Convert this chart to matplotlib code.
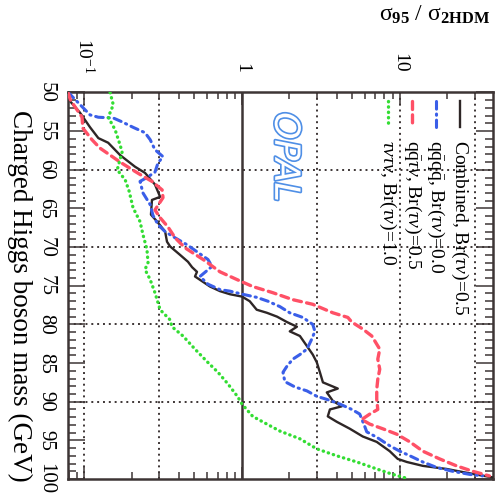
"""
OPAL charged Higgs search: ratio of the 95% CL cross-section limit to the
2HDM prediction versus charged Higgs mass, drawn in landscape-rotated form.
"""

import matplotlib.pyplot as plt
import matplotlib.patheffects as pe
from matplotlib.ticker import MultipleLocator, LogLocator, NullFormatter

plt.rcParams['font.family'] = ['Liberation Serif', 'DejaVu Serif']
plt.rcParams['mathtext.fontset'] = 'custom'
plt.rcParams['mathtext.rm'] = 'Liberation Serif'
plt.rcParams['mathtext.it'] = 'Liberation Serif:italic'
plt.rcParams['mathtext.bf'] = 'Liberation Serif:bold'

# Combined, Br(tau nu) = 0.5
combined_mass = [50.0, 51.2, 52.6, 54.5, 55.9, 56.5, 58.1, 59.6, 60.4, 61.9,
                 63.5, 63.9, 65.8, 66.7, 68.0, 69.3, 69.9, 71.0, 71.9, 72.6,
                 73.2, 73.8, 74.5, 75.1, 75.7, 76.1, 76.4, 77.0, 78.1, 78.5,
                 79.0, 79.7, 80.3, 80.9, 81.5, 82.8, 83.9, 84.9, 86.2, 87.5,
                 88.3, 88.8, 89.9, 90.6, 91.0, 91.9, 92.6, 93.5, 94.5, 95.2,
                 96.4, 97.4, 97.8, 98.3, 98.7, 99.1, 99.5, 99.8]
combined_ratio = [0.079, 0.082, 0.094, 0.109, 0.123, 0.142, 0.169, 0.210, 0.243, 0.281,
                  0.303, 0.269, 0.265, 0.290, 0.326, 0.335, 0.350, 0.405, 0.455, 0.483,
                  0.519, 0.504, 0.567, 0.627, 0.726, 0.840, 1.00, 1.12, 1.24, 1.44,
                  1.67, 1.93, 2.23, 2.01, 2.33, 2.58, 2.81, 2.98, 3.12, 3.26,
                  4.05, 3.45, 3.77, 4.29, 3.61, 3.50, 3.99, 4.83, 5.83, 7.15,
                  8.64, 9.71, 11.1, 14.0, 19.8, 25.1, 32.1, 39.0]

# qqqq channel, Br(tau nu) = 0.0
qqqq_mass = [50.0, 50.3, 52.9, 53.2, 53.3, 53.8, 54.5, 55.2, 56.1, 57.4,
             58.3, 59.1, 60.3, 61.0, 61.5, 63.0, 64.5, 65.9, 67.1, 68.0,
             68.8, 69.7, 70.7, 71.6, 72.5, 73.8, 74.8, 75.5, 75.7, 76.1,
             76.5, 77.0, 77.7, 78.5, 79.1, 80.0, 80.9, 81.9, 83.2, 83.9,
             84.5, 85.4, 86.2, 87.4, 88.1, 88.6, 89.3, 89.7, 90.3, 91.0,
             91.6, 93.2, 93.9, 94.6, 95.7, 96.4, 97.0, 97.8, 98.5, 99.0,
             99.4, 99.6]
qqqq_ratio = [0.079, 0.082, 0.109, 0.123, 0.153, 0.174, 0.204, 0.243, 0.262, 0.281,
              0.316, 0.294, 0.281, 0.250, 0.226, 0.236, 0.262, 0.273, 0.294, 0.326,
              0.377, 0.449, 0.527, 0.609, 0.646, 0.542, 0.609, 0.726, 0.840, 1.01,
              1.24, 1.46, 1.74, 2.01, 2.43, 2.81, 2.90, 2.77, 2.58, 2.33,
              2.10, 1.93, 1.82, 1.87, 2.17, 2.58, 2.98, 3.45, 4.17, 4.97,
              5.58, 6.00, 6.18, 7.15, 8.64, 10.0, 11.6, 14.0, 17.1, 21.6,
              27.7, 33.5]

# qq tau nu channel, Br(tau nu) = 0.5
qqtn_mass = [50.0, 51.0, 53.2, 54.6, 56.1, 57.2, 58.1, 59.0, 59.8, 60.6,
             61.5, 62.6, 63.6, 65.2, 66.2, 67.4, 68.8, 70.1, 71.6, 73.2,
             74.2, 75.1, 75.9, 76.8, 77.4, 78.5, 79.1, 79.7, 80.6, 81.5,
             83.2, 84.5, 85.8, 87.1, 88.4, 89.7, 91.0, 91.6, 92.3, 92.9,
             93.5, 94.2, 95.2, 96.4, 97.4, 98.3, 99.0, 99.6]
qqtn_ratio = [0.079, 0.082, 0.097, 0.098, 0.112, 0.126, 0.146, 0.169, 0.195, 0.226,
              0.269, 0.312, 0.316, 0.281, 0.303, 0.340, 0.377, 0.436, 0.567, 0.726,
              0.93, 1.17, 1.57, 2.10, 2.81, 3.77, 4.69, 4.97, 5.83, 6.65,
              7.47, 7.26, 7.47, 7.26, 7.15, 7.15, 7.26, 6.46, 5.75, 6.46,
              7.80, 9.57, 11.6, 14.0, 17.9, 22.9, 29.0, 37.0]

# tau nu tau nu channel, Br(tau nu) = 1.0
tntn_mass = [50.0, 51.6, 53.2, 54.8, 56.8, 57.7, 60.0, 61.3, 62.8, 64.9,
             66.7, 68.4, 70.3, 72.0, 72.9, 74.2, 75.9, 78.1, 79.4, 80.3,
             81.5, 83.2, 84.8, 86.2, 87.7, 89.4, 90.3, 91.9, 92.9, 93.8,
             94.8, 96.1, 97.0, 97.8, 98.7, 99.4, 100.0]
tntn_ratio = [0.146, 0.153, 0.142, 0.157, 0.169, 0.174, 0.162, 0.182, 0.193, 0.204,
              0.226, 0.236, 0.250, 0.254, 0.243, 0.262, 0.281, 0.303, 0.350, 0.360,
              0.423, 0.504, 0.60, 0.705, 0.815, 0.943, 1.0, 1.17, 1.44, 1.74,
              2.33, 2.98, 3.99, 5.35, 7.15, 9.03, 11.5]

mass_ticks = list(range(50, 101, 5))
ratio_ticks = [0.1, 1, 10]
ratio_ticklabels = [r'$10^{-1}$', '1', '10']
grid_mass = [60, 70, 80, 90]
grid_ratio = [0.1, 0.3, 3, 10, 30]

legend_labels = [r'Combined, Br($\tau\nu$)=0.5',
                 r'$\mathrm{q\bar{q}q\bar{q}}$, Br($\tau\nu$)=0.0',
                 r'$\mathrm{q\bar{q}}\tau\nu$, Br($\tau\nu$)=0.5',
                 r'$\tau\nu\tau\nu$, Br($\tau\nu$)=1.0']

frame_col = '#3d3535'
styles = [dict(color='#2e2626', lw=1.7, ls='-'),
          dict(color='#3a5ee8', lw=2.2, ls=(0, (2.5, 1.6, 0.4, 1.6)), dash_capstyle='round'),
          dict(color='#ff5066', lw=2.4, ls=(0, (2.4, 1.6)), dash_capstyle='round'),
          dict(color='#33dd33', lw=2.4, ls=(0, (0.1, 1.5)), dash_capstyle='round')]

fig = plt.figure(figsize=(4.97, 5.0), dpi=100)
ax = fig.add_axes([68 / 497, 21 / 500, 425 / 497, 386.5 / 500])

ax.set_xscale('log')
ax.set_xlim(0.079, 39)
ax.set_ylim(100, 50)

# grid: dotted, with a solid line at ratio = 1
for m in grid_mass:
    ax.axhline(m, color=frame_col, lw=1.4, ls=(0, (1, 2)), zorder=1)
for r in grid_ratio:
    ax.axvline(r, color=frame_col, lw=1.4, ls=(0, (1, 2)), zorder=1)
ax.axvline(1, color=frame_col, lw=1.8, zorder=1)

curves = [(combined_mass, combined_ratio), (qqqq_mass, qqqq_ratio),
          (qqtn_mass, qqtn_ratio), (tntn_mass, tntn_ratio)]
for (m, r), st in zip(curves, styles):
    ax.plot(r, m, zorder=3, **st)

# axes frame and ticks
for sp in ax.spines.values():
    sp.set_linewidth(1.8)
    sp.set_color(frame_col)

ax.set_xticks(ratio_ticks)
ax.set_xticklabels(ratio_ticklabels)
ax.xaxis.set_minor_locator(LogLocator(base=10, subs=range(2, 10)))
ax.xaxis.set_minor_formatter(NullFormatter())
ax.set_yticks(mass_ticks)
ax.set_yticklabels([str(v) for v in mass_ticks])
ax.yaxis.set_minor_locator(MultipleLocator(1))

ax.tick_params(axis='x', which='both', direction='in', top=True, bottom=True,
               labeltop=True, labelbottom=False, color=frame_col, width=1.1,
               labelsize=14, pad=14)
ax.tick_params(axis='x', which='major', length=9)
ax.tick_params(axis='x', which='minor', length=5)
ax.tick_params(axis='y', which='both', direction='in', left=True, right=True,
               color=frame_col, width=1.1, labelsize=15, pad=9)
ax.tick_params(axis='y', which='major', length=12)
ax.tick_params(axis='y', which='minor', length=6)
for lab in ax.get_xticklabels():
    lab.set_rotation(-90)
    lab.set_rotation_mode('default')
    lab.set_ha('center')
    lab.set_va('bottom')
for lab in ax.get_yticklabels():
    lab.set_rotation(-90)
    lab.set_rotation_mode('default')
    lab.set_ha('right')
    lab.set_va('center')

ylab = ax.set_ylabel('Charged Higgs boson mass (GeV)', fontsize=19.5)
ylab.set_rotation(-90)
ylab.set_rotation_mode('default')
ylab.set_ha('center')
ylab.set_va('bottom')
ax.yaxis.set_label_coords(-0.115, -0.008)

ax.text(0.993, 1.185, r'$\mathrm{\sigma}_{\mathbf{95}}$ / $\mathrm{\sigma}_{\mathbf{2HDM}}$',
        transform=ax.transAxes, ha='right', va='baseline', fontsize=17)

# legend drawn as vertical entries
leg_x = [0.922, 0.866, 0.810, 0.752]
for x, st, label in zip(leg_x, styles, legend_labels):
    ax.plot([x, x], [0.978, 0.912], transform=ax.transAxes, zorder=4, **st)
    ax.text(x, 0.877, label, transform=ax.transAxes, rotation=-90,
            ha='center', va='top', fontsize=14)

ax.text(0.511, 0.833, 'OPAL', transform=ax.transAxes, rotation=-90,
        ha='center', va='center', fontsize=25, color='white',
        family='DejaVu Sans', style='oblique',
        path_effects=[pe.withStroke(linewidth=2.4, foreground='#4f8fe6')])

fig.savefig('out.png', dpi=100)
